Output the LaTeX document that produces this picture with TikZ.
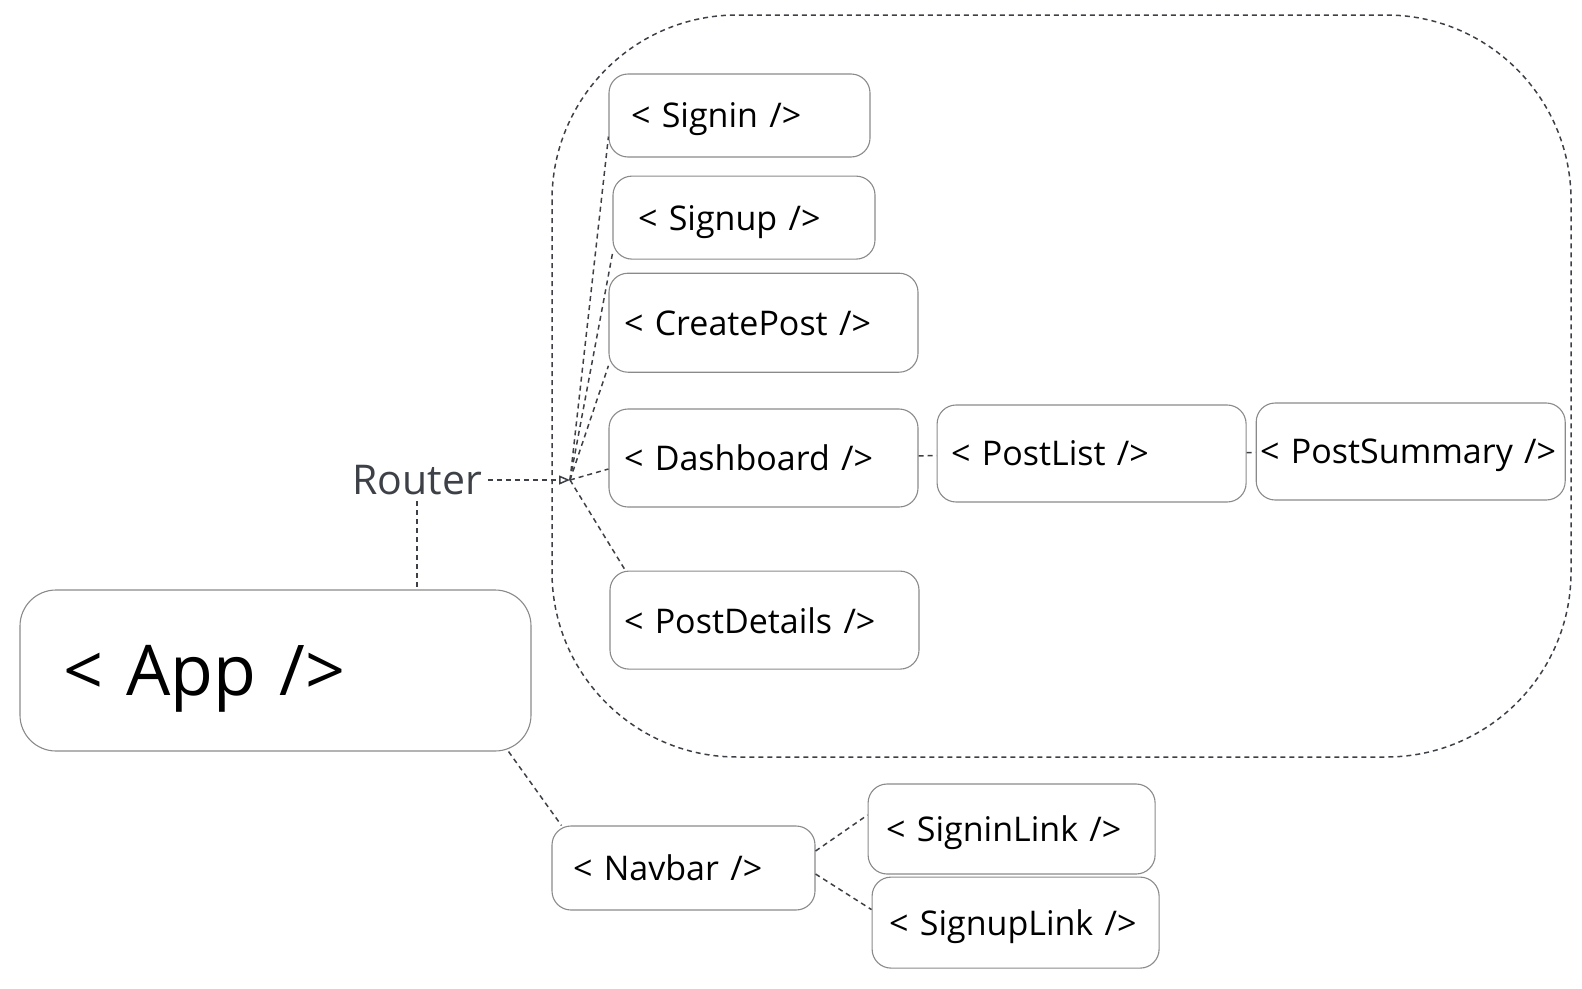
\documentclass[tikz,border=0pt]{standalone}
\usepackage{fontspec}
\setmainfont{Open Sans}
\usetikzlibrary{arrows.meta, positioning}
\definecolor{boxline}{HTML}{8A8A8A}
\definecolor{linkgray}{HTML}{3D4147}
\newcommand{\blockfont}{\fontsize{34}{40}\selectfont}
\newcommand{\appfont}{\fontsize{70}{84}\selectfont}
\newcommand{\routerfont}{\fontsize{41}{48}\selectfont}
\tikzstyle{block} = [rectangle, draw=boxline, line width=1.1pt, rounded corners=19pt, align=left, font=\blockfont, inner ysep=0pt, text depth=0pt]
\tikzstyle{link} = [draw=linkgray, line width=1.5pt, dash pattern=on 5pt off 4pt]
\tikzstyle{route} = [link, -{Triangle[open, length=11pt, width=9pt]}]
\tikzstyle{region} = [link, rounded corners=185pt]

\begin{document}
\begin{tikzpicture}[x=1pt, y=-1pt]
    \useasboundingbox (0,0) rectangle (1582,988);

    % Routes area
    \draw [region] (552,15) rectangle (1571,757);

    % App and router
    \node (app) [block, font=\appfont, rounded corners=36pt, text width=425pt, inner xsep=43pt, minimum height=161pt] at (275.5,670.5) {< App />};
    \node (router) [font=\routerfont, text=linkgray, inner sep=6pt] at (417,480) {Router};
    \coordinate (hub) at (570,480);

    % Pages
    \node (signin) [block, text width=217pt, inner xsep=22pt, minimum height=83pt] at (739.5,115.5) {< Signin />};
    \node (signup) [block, text width=212pt, inner xsep=25pt, minimum height=83pt, below=18pt of signin, xshift=4.5pt] {< Signup />};
    \node (createpost) [block, text width=279pt, inner xsep=15pt, minimum height=99pt, below=13pt of signup, xshift=19.5pt] {< CreatePost />};
    \node (dash) [block, text width=279pt, inner xsep=15pt, minimum height=98pt] at (763.5,458) {< Dashboard />};
    \node (postdetails) [block, text width=281pt, inner xsep=14pt, minimum height=98pt, below=63pt of dash, xshift=1pt] {< PostDetails />};

    % Dashboard children
    \node (postlist) [block, text width=281pt, inner xsep=14pt, minimum height=97pt, right=18pt of dash, yshift=4.5pt] {< PostList />};
    \node (postsummary) [block, text width=301pt, inner xsep=4pt, minimum height=97pt, right=9pt of postlist, yshift=2pt] {< PostSummary />};

    % Navbar
    \node (navbar) [block, text width=221pt, inner xsep=21pt, minimum height=84pt] at (683.5,868) {< Navbar />};
    \node (signinlink) [block, text width=251pt, inner xsep=18pt, minimum height=90pt, right=52pt of navbar, yshift=39pt] {< SigninLink />};
    \node (signuplink) [block, text width=253pt, inner xsep=17pt, minimum height=91pt, below=2pt of signinlink, xshift=4pt] {< SignupLink />};

    % ==== Links
    \draw [link] (router.south) -- (router.south |- app.north);
    \draw [route] (router.east) -- (hub);

    % Router
    \draw [link] (hub) -- ([yshift=21pt]signin.south west);
    \draw [link] (hub) -- ([yshift=6pt]signup.south west);
    \draw [link] (hub) -- ([yshift=7pt]createpost.south west);
    \draw [link] (hub) -- ([yshift=-11pt]dash.west);
    \draw [link] (hub) -- ([xshift=16pt]postdetails.north west);
    \draw [link] (dash) -- (postlist);
    \draw [link] (postlist) -- (postsummary);

    % Navbar
    \draw [link] ([xshift=-23pt]app.south east) -- ([xshift=10pt]navbar.north west);
    \draw [link] ([yshift=17pt]navbar.east) -- ([yshift=14pt]signinlink.west);
    \draw [link] ([yshift=-6pt]navbar.east) -- ([yshift=13pt]signuplink.west);

\end{tikzpicture}
\end{document}
